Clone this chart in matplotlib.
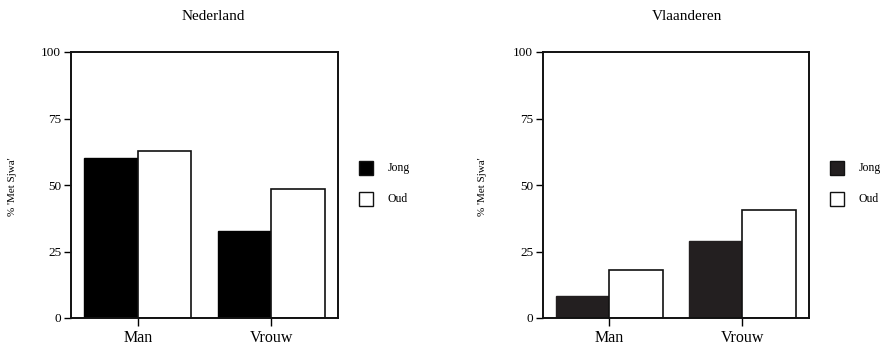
import matplotlib
matplotlib.use("Agg")
import matplotlib.pyplot as plt
import numpy as np

plt.rcParams['font.family'] = ['Liberation Serif', 'DejaVu Serif']

categories = ["Man", "Vrouw"]
groups = ["Jong", "Oud"]
nederland_jong = [60.0, 32.7]
nederland_oud = [62.9, 48.4]
vlaanderen_jong = [8.4, 29.0]
vlaanderen_oud = [18.0, 40.6]
yticks = [0, 25, 50, 75, 100]
titles = ["Nederland", "Vlaanderen"]
ylabel = "% 'Met Sjwa'"

W, H = 887, 345
fig = plt.figure(figsize=(W / 100, H / 100), dpi=100)

def ax_rect(x0, x1, y0, y1):
    return [x0 / W, 1 - y1 / H, (x1 - x0) / W, (y1 - y0) / H]

panels = [
    dict(rect=ax_rect(71, 338, 52, 318), jong=nederland_jong, oud=nederland_oud,
         jc="#000000", title=titles[0], tx=213, ylx=13, leg=(359, 388)),
    dict(rect=ax_rect(543, 809, 52, 318), jong=vlaanderen_jong, oud=vlaanderen_oud,
         jc="#231f20", title=titles[1], tx=687, ylx=483, leg=(830, 859)),
]

x = np.arange(len(categories))
bw = 0.4
for p in panels:
    ax = fig.add_axes(p["rect"])
    ax.bar(x - bw / 2, p["jong"], width=bw, color=p["jc"], edgecolor=p["jc"], linewidth=1.0)
    ax.bar(x + bw / 2, p["oud"], width=bw, color="white", edgecolor="#111111", linewidth=1.2)
    ax.set_xlim(-0.5, 1.5)
    ax.set_ylim(0, 100)
    ax.set_yticks(yticks)
    ax.set_yticklabels([str(t) for t in yticks], fontsize=9.5)
    ax.set_xticks(x)
    ax.set_xticklabels(categories, fontsize=11.5)
    ax.tick_params(axis='y', direction='out', length=5, width=1.0, pad=2)
    ax.tick_params(axis='x', direction='out', length=6, width=1.0, pad=3)
    for s in ax.spines.values():
        s.set_linewidth(1.4)
        s.set_color("#111111")
    fig.text(p["tx"] / W, 1 - 16 / H, p["title"], ha='center', va='center', fontsize=11)
    fig.text(p["ylx"] / W, 1 - 187 / H, ylabel, rotation=90, ha='center', va='center', fontsize=8)
    lx, tx = p["leg"]
    sq = 14
    for i, (g, fc) in enumerate(zip(groups, [p["jc"], "white"])):
        cy = 168 + 31 * i
        fig.patches.append(plt.Rectangle((lx / W, 1 - (cy + sq / 2) / H), sq / W, sq / H,
                                         transform=fig.transFigure, facecolor=fc,
                                         edgecolor="#111111", linewidth=1.0))
        fig.text(tx / W, 1 - cy / H, g, ha='left', va='center', fontsize=8.5)

fig.savefig("out.png", dpi=100)
